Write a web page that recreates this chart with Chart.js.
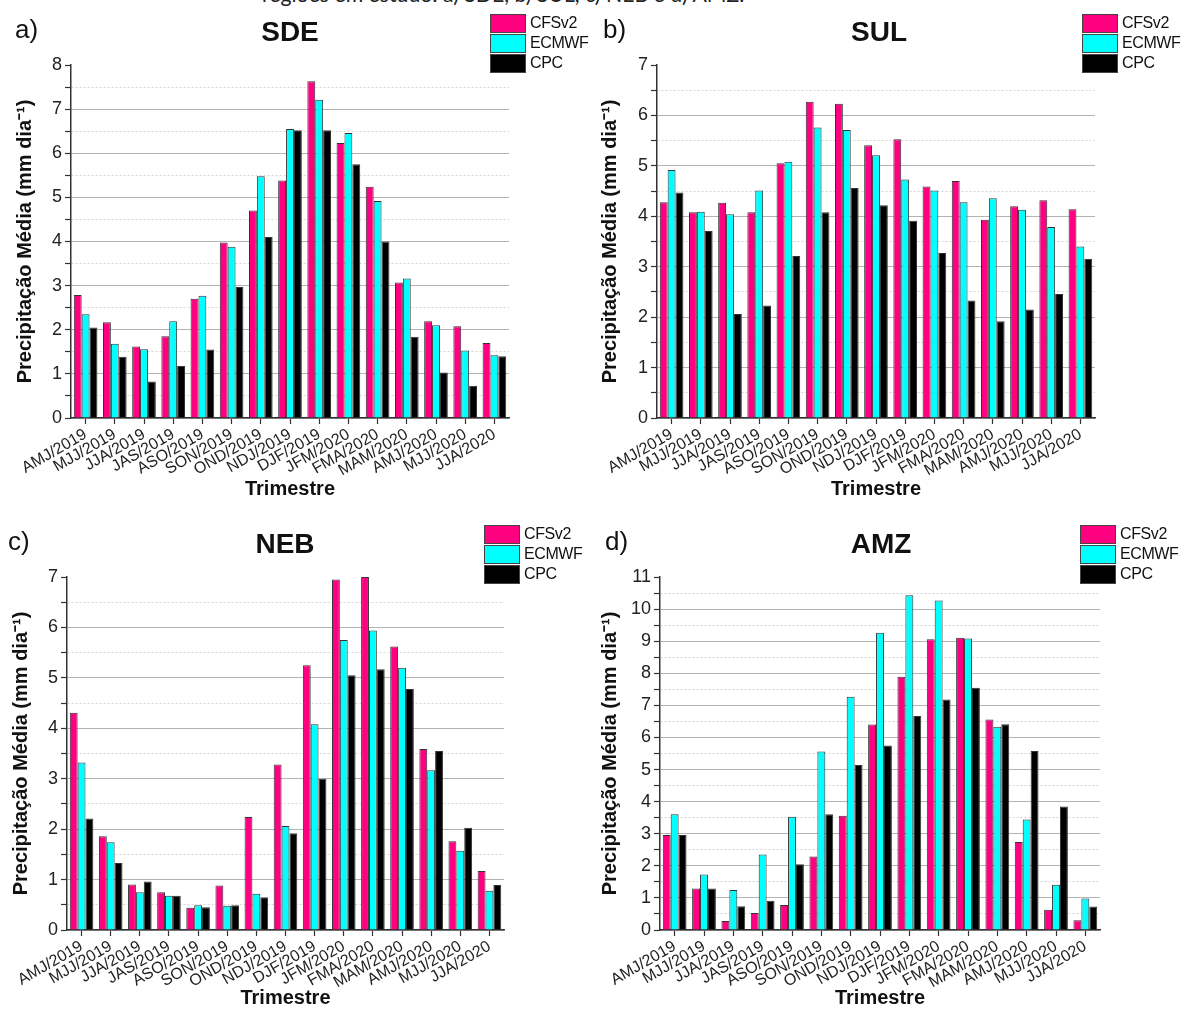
<!DOCTYPE html>
<html lang="pt">
<head>
<meta charset="utf-8">
<title>Precipitação média por trimestre</title>
<script src="https://cdn.jsdelivr.net/npm/chart.js@4.4.1/dist/chart.umd.min.js"></script>
<style>
  html, body { margin: 0; padding: 0; background: #fff; }
  #page { position: relative; width: 1182px; height: 1010px; overflow: hidden;
          font-family: "Liberation Sans", Arial, sans-serif; color: #111; }
  canvas { position: absolute; }
  .caption { position: absolute; left: 262px; top: -16px; font-family: Lato, "Open Sans", sans-serif;
             font-size: 20px; line-height: 20px; white-space: nowrap; color: #222; }
  .letter { position: absolute; font-size: 26px; line-height: 26px; z-index: 2; }
  .title { position: absolute; font-size: 28px; line-height: 28px; font-weight: bold;
           transform: translateX(-50%); z-index: 2; }
  .legend { position: absolute; z-index: 2; }
  .legend-row { display: flex; align-items: center; height: 20px; }
  .legend-box { width: 36px; height: 19px; box-sizing: border-box; border: 1px solid #444; margin-right: 4px; }
  .legend-label { font-size: 16px; letter-spacing: -0.4px; white-space: nowrap; }
</style>
</head>
<body>
<div id="page">
  <div class="caption" id="caption">regiões em estudo: a) SDE, b) SUL, c) NEB e d) AMZ.</div>
  <canvas id="chartSDE" width="590" height="510" style="left:0;top:0"></canvas>
  <canvas id="chartSUL" width="592" height="510" style="left:590px;top:0"></canvas>
  <canvas id="chartNEB" width="590" height="500" style="left:0;top:510px"></canvas>
  <canvas id="chartAMZ" width="592" height="500" style="left:590px;top:510px"></canvas>
</div>

<script>
/* ============================================================
   DATA
============================================================ */
const categories = ['AMJ/2019', 'MJJ/2019', 'JJA/2019', 'JAS/2019', 'ASO/2019', 'SON/2019', 'OND/2019',
    'NDJ/2019', 'DJF/2019', 'JFM/2020', 'FMA/2020', 'MAM/2020', 'AMJ/2020', 'MJJ/2020', 'JJA/2020'];
const seriesNames = ['CFSv2', 'ECMWF', 'CPC'];
const panelTitles = ['SDE', 'SUL', 'NEB', 'AMZ'];
const panelLetters = ['a)', 'b)', 'c)', 'd)'];
const yAxisMax = [8, 7, 7, 11];

const sdeCFSv2 = [2.79, 2.17, 1.62, 1.85, 2.70, 3.98, 4.70, 5.38, 7.63, 6.23, 5.24, 3.07, 2.19, 2.08, 1.70];
const sdeECMWF = [2.35, 1.68, 1.56, 2.19, 2.77, 3.88, 5.48, 6.55, 7.21, 6.46, 4.92, 3.16, 2.10, 1.53, 1.42];
const sdeCPC   = [2.05, 1.39, 0.83, 1.18, 1.55, 2.97, 4.10, 6.52, 6.52, 5.75, 4.00, 1.84, 1.03, 0.73, 1.40];

const sulCFSv2 = [4.28, 4.08, 4.27, 4.08, 5.05, 6.27, 6.23, 5.41, 5.53, 4.59, 4.70, 3.93, 4.20, 4.32, 4.14];
const sulECMWF = [4.92, 4.09, 4.04, 4.51, 5.08, 5.76, 5.71, 5.21, 4.73, 4.51, 4.28, 4.36, 4.13, 3.79, 3.40];
const sulCPC   = [4.47, 3.71, 2.06, 2.23, 3.21, 4.08, 4.56, 4.22, 3.91, 3.27, 2.33, 1.92, 2.15, 2.46, 3.16];

const nebCFSv2 = [4.31, 1.86, 0.90, 0.75, 0.44, 0.88, 2.24, 3.28, 5.25, 6.95, 7.00, 5.62, 3.59, 1.76, 1.17];
const nebECMWF = [3.32, 1.74, 0.75, 0.68, 0.49, 0.48, 0.72, 2.06, 4.08, 5.75, 5.94, 5.20, 3.17, 1.57, 0.78];
const nebCPC   = [2.21, 1.33, 0.96, 0.68, 0.45, 0.49, 0.65, 1.92, 3.00, 5.05, 5.17, 4.78, 3.55, 2.03, 0.89];

const amzCFSv2 = [2.96, 1.29, 0.28, 0.53, 0.78, 2.29, 3.56, 6.40, 7.89, 9.06, 9.11, 6.56, 2.74, 0.63, 0.30];
const amzECMWF = [3.61, 1.73, 1.25, 2.35, 3.53, 5.56, 7.27, 9.26, 10.43, 10.27, 9.08, 6.33, 3.44, 1.41, 0.98];
const amzCPC   = [2.96, 1.29, 0.74, 0.91, 2.05, 3.61, 5.14, 5.75, 6.67, 7.18, 7.55, 6.41, 5.58, 3.85, 0.73];

/* ============================================================
   STYLE / LAYOUT
============================================================ */
const FONT = '"Liberation Sans", Arial, sans-serif';
const seriesColors = ['#ff0080', '#00ffff', '#000000'];

// plot area of each panel is placed by padding + fixed axis sizes
const panels = [
    { id: 'chartSDE', values: [sdeCFSv2, sdeECMWF, sdeCPC], padTop: 65, padRight: 81, yWidth: 71, yTitlePad: 13, xHeight: 92, xTitlePad: 9,
      letter: [15, 16], title: [290, 18], legend: [490, 13] },
    { id: 'chartSUL', values: [sulCFSv2, sulECMWF, sulCPC], padTop: 65, padRight: 87, yWidth: 67, yTitlePad: 8, xHeight: 92, xTitlePad: 9,
      letter: [603, 16], title: [879, 18], legend: [1082, 13] },
    { id: 'chartNEB', values: [nebCFSv2, nebECMWF, nebCPC], padTop: 67, padRight: 86, yWidth: 67, yTitlePad: 9, xHeight: 80, xTitlePad: 0,
      letter: [8, 528], title: [285, 530], legend: [484, 524] },
    { id: 'chartAMZ', values: [amzCFSv2, amzECMWF, amzCPC], padTop: 67, padRight: 82, yWidth: 70, yTitlePad: 8, xHeight: 80, xTitlePad: 0,
      letter: [605, 528], title: [881, 530], legend: [1080, 524] }
];

Chart.defaults.font.family = FONT;
Chart.defaults.color = '#222';

/* -------------------------
   CHART BUILDER
--------------------------*/
function buildChart(p, yMax) {
    const isMinor = (ctx) => ctx.tick && !Number.isInteger(ctx.tick.value);

    return new Chart(document.getElementById(p.id), {
        type: 'bar',
        data: {
            labels: categories,
            datasets: seriesNames.map((name, i) => ({
                label: name,
                data: p.values[i],
                backgroundColor: seriesColors[i],
                borderColor: '#333',
                borderWidth: 1,
                categoryPercentage: 0.81,
                barPercentage: 1.0
            }))
        },
        options: {
            responsive: false,
            animation: false,
            devicePixelRatio: 1,
            layout: { padding: { left: 0, top: p.padTop, right: p.padRight, bottom: 0 } },
            plugins: { legend: { display: false }, tooltip: { enabled: false } },
            scales: {
                x: {
                    afterFit: (s) => { s.height = p.xHeight; },
                    grid: { drawOnChartArea: false, offset: false, tickLength: 6, tickColor: '#333', tickWidth: 1.2 },
                    border: { color: '#333', width: 1.5 },
                    ticks: { autoSkip: false, minRotation: 30, maxRotation: 30, padding: 1, color: '#222',
                             font: { size: 16 } },
                    title: { display: true, text: 'Trimestre', color: '#111',
                             font: { size: 20, weight: 'bold' }, padding: { top: 0, bottom: p.xTitlePad } }
                },
                y: {
                    min: 0,
                    max: yMax,
                    afterFit: (s) => { s.width = p.yWidth; },
                    ticks: {
                        stepSize: 0.5, autoSkip: false, maxTicksLimit: 60, padding: 3, color: '#222',
                        font: { size: 18 },
                        callback: (v) => Number.isInteger(v) ? v : ''
                    },
                    grid: {
                        color: (ctx) => {
                            if (!ctx.tick) return '#b4b4b4';
                            if (ctx.tick.value === yMax) return 'rgba(0,0,0,0)';
                            return isMinor(ctx) ? '#d6d6d6' : '#b4b4b4';
                        },
                        lineWidth: 1,
                        tickLength: 6,
                        tickColor: '#333',
                        tickWidth: 1.2,
                        tickBorderDash: []
                    },
                    border: { color: '#333', width: 1.5, dash: (ctx) => isMinor(ctx) ? [2, 2] : [] },
                    title: { display: true, text: 'Precipitação Média (mm dia⁻¹)', color: '#111',
                             font: { size: 20, weight: 'bold' }, padding: { top: p.yTitlePad, bottom: 0 } }
                }
            }
        }
    });
}

/* -------------------------
   OVERLAY TEXT (letters, titles, legends)
--------------------------*/
function addOverlay(p, idx) {
    const page = document.getElementById('page');

    const letter = document.createElement('div');
    letter.className = 'letter';
    letter.textContent = panelLetters[idx];
    letter.style.left = p.letter[0] + 'px';
    letter.style.top = p.letter[1] + 'px';
    page.appendChild(letter);

    const title = document.createElement('div');
    title.className = 'title';
    title.textContent = panelTitles[idx];
    title.style.left = p.title[0] + 'px';
    title.style.top = p.title[1] + 'px';
    page.appendChild(title);

    const legend = document.createElement('div');
    legend.className = 'legend';
    legend.style.left = p.legend[0] + 'px';
    legend.style.top = p.legend[1] + 'px';
    legend.innerHTML = seriesNames.map((name, i) => `
        <div class="legend-row">
            <div class="legend-box" style="background:${seriesColors[i]}"></div>
            <span class="legend-label">${name}</span>
        </div>`).join('');
    page.appendChild(legend);
}

panels.forEach((p, i) => {
    buildChart(p, yAxisMax[i]);
    addOverlay(p, i);
});

// fit the (cut off) caption line to its width in the source
const cap = document.getElementById('caption');
const mctx = document.createElement('canvas').getContext('2d');
mctx.font = '20px Lato';
const w = mctx.measureText(cap.textContent).width;
if (w > 0) cap.style.fontSize = (20 * 483 / w).toFixed(2) + 'px';
</script>
</body>
</html>
